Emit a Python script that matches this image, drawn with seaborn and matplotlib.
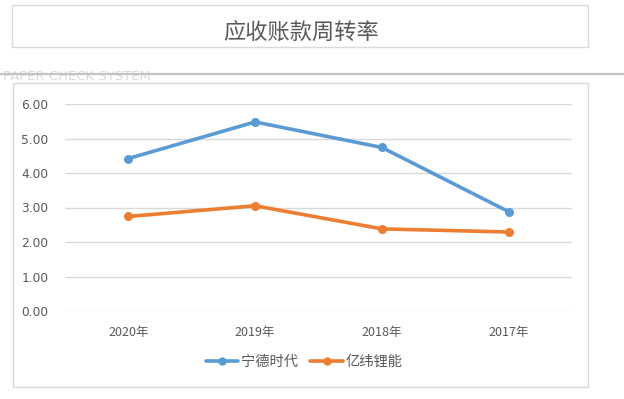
import matplotlib
matplotlib.use("Agg")
import matplotlib.pyplot as plt
import seaborn as sns
import pandas as pd
from matplotlib.patches import Rectangle
from matplotlib.lines import Line2D

# ---- data ----
title = "应收账款周转率"
years = ["2020年", "2019年", "2018年", "2017年"]
catl = [4.42, 5.48, 4.74, 2.88]      # 宁德时代
eve = [2.74, 3.05, 2.38, 2.29]       # 亿纬锂能
series_names = ["宁德时代", "亿纬锂能"]
yticks = [0, 1, 2, 3, 4, 5, 6]

df = pd.DataFrame({
    "year": years * 2,
    "value": catl + eve,
    "company": [series_names[0]] * 4 + [series_names[1]] * 4,
})
df["x"] = list(range(len(years))) * 2

sns.set_theme(style="white")
plt.rcParams['font.family'] = ['Noto Sans CJK SC', 'DejaVu Sans']

W, H = 624, 399
fig = plt.figure(figsize=(W / 100, H / 100), dpi=100)
fig.patch.set_facecolor("white")

def fx(px):
    return px / W

def fy(py):
    return 1 - py / H

# chart frames (top band and lower band)
fig.add_artist(Rectangle((fx(12), fy(47)), fx(588) - fx(12), fy(5) - fy(47),
                         transform=fig.transFigure, fill=False, ec="#d9d9d9", lw=1.0))
fig.add_artist(Rectangle((fx(13), fy(387)), fx(588) - fx(13), fy(83) - fy(387),
                         transform=fig.transFigure, fill=False, ec="#d9d9d9", lw=1.0))
fig.text(fx(3), fy(77), "PAPER CHECK SYSTEM", fontsize=9.5, color="#dadada",
         ha="left", va="center", family=['DejaVu Sans'], zorder=1)
# separator line across page
fig.add_artist(Line2D([0, 1], [fy(73.5), fy(73.5)], transform=fig.transFigure,
                      color="#c4c4c4", lw=1.6, zorder=3))

fig.text(fx(301), fy(32), title, fontsize=16, color="#595959",
         ha="center", va="center")

ax = fig.add_axes([fx(65), fy(311), fx(572) - fx(65), fy(104) - fy(311)])
palette = {series_names[0]: "#5B9BD5", series_names[1]: "#ED7D31"}
sns.lineplot(data=df, x="x", y="value", hue="company", palette=palette,
             marker="o", markersize=6.5, markeredgewidth=0, linewidth=2.6,
             ax=ax, legend=False, clip_on=False)

ax.set_xlim(-0.5, len(years) - 0.5)
ax.set_ylim(0, 6)
ax.set_yticks(yticks)
ax.set_yticklabels([f"{v:.2f}" for v in yticks], fontsize=8.8, color="#595959",
                   family=['DejaVu Sans'])
ax.set_xticks(range(len(years)))
ax.set_xticklabels(years, fontsize=9, color="#595959")
ax.tick_params(axis="both", length=0)
ax.tick_params(axis="y", pad=12)
ax.tick_params(axis="x", pad=11)
ax.set_xlabel("")
ax.set_ylabel("")
ax.grid(axis="y", color="#d9d9d9", lw=1.0)
ax.grid(axis="x", visible=False)
for s in ax.spines.values():
    s.set_visible(False)
ax.set_axisbelow(True)

handles = [Line2D([], [], color=palette[n], marker="o", markersize=6,
                  markeredgewidth=0, lw=2.6) for n in series_names]
fig.legend(handles, series_names, loc="center", bbox_to_anchor=(fx(304), fy(362)),
           ncol=2, frameon=False, fontsize=10.3, handlelength=2.3, handletextpad=0.15,
           columnspacing=0.9, labelcolor="#595959")

fig.savefig("out.png", dpi=100, facecolor="white")
